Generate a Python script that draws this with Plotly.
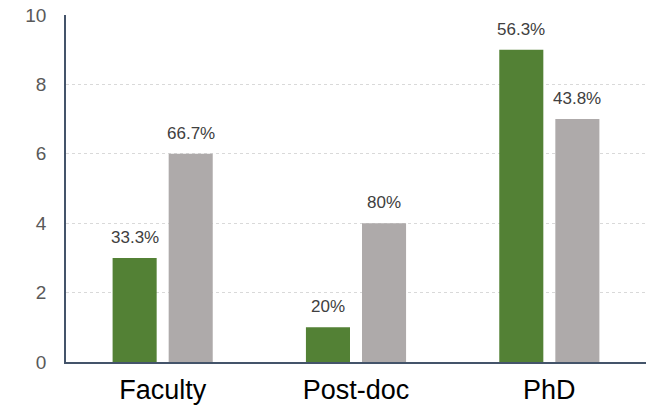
import plotly.graph_objects as go

categories = ["Faculty", "Post-doc", "PhD"]
green_values = [3, 1, 9]
gray_values = [6, 4, 7]
green_labels = ["33.3%", "20%", "56.3%"]
gray_labels = ["66.7%", "80%", "43.8%"]
y_ticks = [0, 2, 4, 6, 8, 10]

GREEN = "#538135"
GRAY = "#AEAAAA"
LABEL_FONT = dict(family="Liberation Sans Narrow, Arial Narrow, Liberation Sans, Arial", size=17, color="#404040")

fig = go.Figure()
fig.add_trace(go.Bar(x=categories, y=green_values, marker=dict(color=GREEN, line=dict(width=0)), name="A"))
fig.add_trace(go.Bar(x=categories, y=gray_values, marker=dict(color=GRAY, line=dict(width=0)), name="B"))

annotations = []
for cat, v, lab in zip(categories, green_values, green_labels):
    annotations.append(dict(x=cat, y=v, text=lab, xref="x", yref="y", showarrow=False,
                            xshift=-28, yshift=9, yanchor="bottom", font=LABEL_FONT))
for cat, v, lab in zip(categories, gray_values, gray_labels):
    annotations.append(dict(x=cat, y=v, text=lab, xref="x", yref="y", showarrow=False,
                            xshift=28, yshift=9, yanchor="bottom", font=LABEL_FONT))

fig.update_layout(
    width=654, height=409,
    margin=dict(l=66, r=8, t=15, b=47),
    paper_bgcolor="white", plot_bgcolor="white",
    barmode="group", bargap=0.42, bargroupgap=0.214,
    showlegend=False,
    annotations=annotations,
    font=dict(family="Liberation Sans, Arial, sans-serif"),
)
fig.update_xaxes(showline=True, linecolor="#44546A", linewidth=1.5, showgrid=False, automargin=False,
                 ticks="", tickfont=dict(size=27, color="#000000"), ticklabelstandoff=3)
fig.update_yaxes(range=[0, 10], tickvals=y_ticks, showline=True, linecolor="#44546A", linewidth=1.5,
                 showgrid=True, gridcolor="#D9D9D9", griddash="dot", gridwidth=1, automargin=False,
                 zeroline=False, ticks="", tickfont=dict(size=19, color="#595959"), ticklabelstandoff=14)

fig.write_html("out.html", config={"displayModeBar": False},
               post_script="document.body.style.margin='0';document.body.style.overflow='hidden';")
